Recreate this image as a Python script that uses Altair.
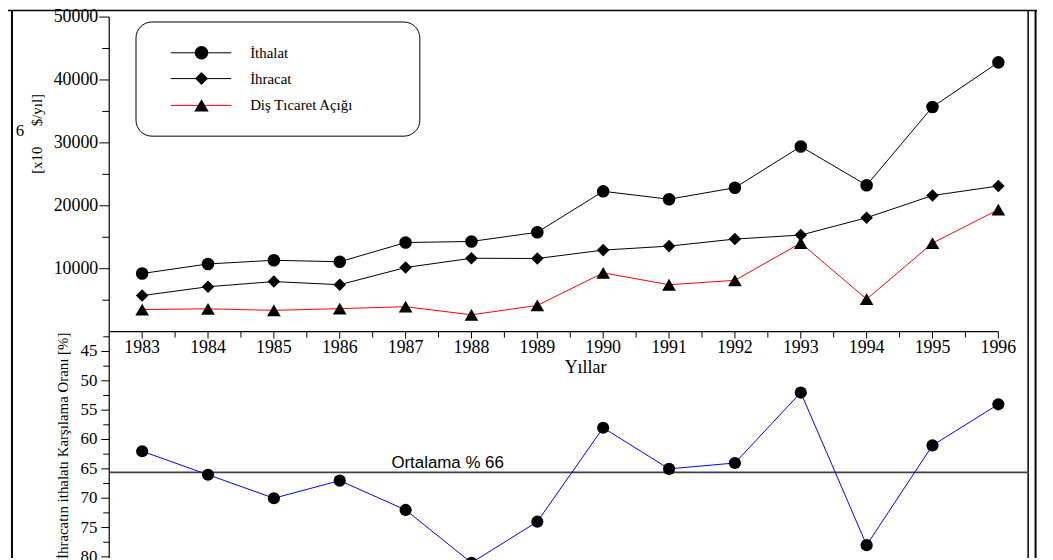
import altair as alt
import pandas as pd

# ---------------- data ----------------
years = list(range(1983, 1997))
ithalat = [9235, 10757, 11343, 11105, 14158, 14335, 15792, 22302, 21047, 22871, 29429, 23270, 35709, 42800]
ihracat = [5728, 7134, 7958, 7457, 10190, 11662, 11625, 12959, 13593, 14715, 15345, 18106, 21637, 23150]
dis_ticaret_acigi = [3507, 3623, 3385, 3648, 3968, 2673, 4167, 9343, 7454, 8156, 14084, 5164, 14072, 19400]
karsilama_orani = [62, 66, 70, 67, 72, 81, 74, 58, 65, 64, 52, 78, 61, 54]
ortalama_cizgisi = [65.6]
ortalama_etiketi = "Ortalama % 66"

series_names = ["İthalat", "İhracat", "Diş Tıcaret Açığı"]
year_labels = [str(y) for y in years]
half_years = [y + 0.5 for y in range(1983, 1996)]
y_top_major = [10000, 20000, 30000, 40000, 50000]
y_top_minor = [5000, 15000, 25000, 35000, 45000]
y_bot_major = [45, 50, 55, 60, 65, 70, 75, 80]
y_bot_minor = [42.5, 47.5, 52.5, 57.5, 62.5, 67.5, 72.5, 77.5]
x_domain = [1982.5, 1996]

SERIF = "Liberation Serif"
SANS = "Liberation Sans"

xs = alt.Scale(domain=x_domain, range=[0, 896], nice=False, zero=False)
yts = alt.Scale(domain=[0, 50000], range=[317, 0], nice=False, zero=False)
ybs = alt.Scale(domain=[45, 80], range=[337, 544], nice=False, zero=False)

one = pd.DataFrame({"d": [0]})

def X(field):
    return alt.X(field, scale=xs, axis=None)

# ---------------- top panel ----------------
df_top = pd.DataFrame({"yil": years, "ithalat": ithalat, "ihracat": ihracat, "acik": dis_ticaret_acigi})

def series(field, color, shape, size):
    base = alt.Chart(df_top)
    ln = base.mark_line(color=color, strokeWidth=1).encode(
        x=X("yil:Q"), y=alt.Y(f"{field}:Q", scale=yts, axis=None))
    pt = base.mark_point(shape=shape, filled=True, size=size, color="black", opacity=1).encode(
        x=X("yil:Q"), y=alt.Y(f"{field}:Q", scale=yts, axis=None))
    return [ln, pt]

top_layers = []
top_layers += series("acik", "#ff0000", "triangle-up", 190)
top_layers += series("ihracat", "black", "diamond", 160)
top_layers += series("ithalat", "black", "circle", 160)

# y axis (top)
df_ytm = pd.DataFrame({"v": y_top_major, "lab": [str(v) for v in y_top_major]})
df_ytn = pd.DataFrame({"v": y_top_minor})
top_layers.append(alt.Chart(df_ytm).mark_rule(color="black").encode(
    y=alt.Y("v:Q", scale=yts, axis=None), x=alt.value(-10), x2=alt.value(0)))
top_layers.append(alt.Chart(df_ytn).mark_rule(color="black").encode(
    y=alt.Y("v:Q", scale=yts, axis=None), x=alt.value(-7), x2=alt.value(0)))
top_layers.append(alt.Chart(df_ytm).mark_text(align="right", baseline="middle", font=SERIF, fontSize=18, color="black").encode(
    y=alt.Y("v:Q", scale=yts, axis=None), x=alt.value(-11), text="lab:N"))

# x axis (top panel)
df_xax = pd.DataFrame({"a": [x_domain[0]], "b": [x_domain[1]]})
top_layers.append(alt.Chart(df_xax).mark_rule(color="black", strokeWidth=1.2).encode(
    x=X("a:Q"), x2="b:Q", y=alt.value(317)))
df_xt = pd.DataFrame({"yil": years, "lab": year_labels})
df_xn = pd.DataFrame({"yil": half_years})
top_layers.append(alt.Chart(df_xt).mark_rule(color="black").encode(
    x=X("yil:Q"), y=alt.value(317), y2=alt.value(324)))
top_layers.append(alt.Chart(df_xn).mark_rule(color="black").encode(
    x=X("yil:Q"), y=alt.value(317), y2=alt.value(323)))
top_layers.append(alt.Chart(df_xt).mark_text(baseline="middle", font=SERIF, fontSize=18, color="black").encode(
    x=X("yil:Q"), y=alt.value(334), text="lab:N"))

# y axis line (both panels)
top_layers.append(alt.Chart(one).mark_rule(color="black", strokeWidth=1.2).encode(
    x=alt.value(0), y=alt.value(0), y2=alt.value(545)))

# titles
top_layers.append(alt.Chart(one).mark_text(text="Yıllar", font=SERIF, fontSize=18, baseline="middle", color="black").encode(
    x=alt.value(480), y=alt.value(354)))
top_layers.append(alt.Chart(one).mark_text(text="[x10", font=SERIF, fontSize=15, angle=270, align="left", baseline="middle", color="black").encode(
    x=alt.value(-73), y=alt.value(158)))
top_layers.append(alt.Chart(one).mark_text(text="$/yıl]", font=SERIF, fontSize=15, angle=270, align="left", baseline="middle", color="black").encode(
    x=alt.value(-73), y=alt.value(110)))
top_layers.append(alt.Chart(one).mark_text(text="6", font=SERIF, fontSize=17, baseline="middle", color="black").encode(
    x=alt.value(-90), y=alt.value(115)))
top_layers.append(alt.Chart(one).mark_text(text="İhracatın ithalatı Karşılama Oranı [%]", font=SERIF, fontSize=15, angle=270, align="right", baseline="middle", color="black").encode(
    x=alt.value(-47), y=alt.value(318)))

# legend
top_layers.append(alt.Chart(one).mark_rect(fillOpacity=0, stroke="black", strokeWidth=1, cornerRadius=16).encode(
    x=alt.value(27), x2=alt.value(313), y=alt.value(5), y2=alt.value(120)))
leg_rows = [(series_names[0], "black", "circle", 190, 36),
            (series_names[1], "black", "diamond", 170, 62),
            (series_names[2], "#ff0000", "triangle-up", 210, 89)]
for name, col, shp, sz, ry in leg_rows:
    top_layers.append(alt.Chart(one).mark_rule(color=col, strokeWidth=1).encode(
        x=alt.value(62), x2=alt.value(123), y=alt.value(ry)))
    top_layers.append(alt.Chart(one).mark_point(shape=shp, filled=True, size=sz, color="black", opacity=1).encode(
        x=alt.value(93), y=alt.value(ry)))
    top_layers.append(alt.Chart(one).mark_text(text=name, font=SERIF, fontSize=15, align="left", baseline="middle", color="black").encode(
        x=alt.value(142), y=alt.value(ry)))

# frame
top_layers.append(alt.Chart(one).mark_rule(color="black", strokeWidth=2).encode(
    x=alt.value(-98), y=alt.value(-7), y2=alt.value(545)))
top_layers.append(alt.Chart(one).mark_rule(color="black", strokeWidth=1.5).encode(
    x=alt.value(926), y=alt.value(-7), y2=alt.value(545)))
top_layers.append(alt.Chart(one).mark_rule(color="black", strokeWidth=2).encode(
    x=alt.value(933.5), y=alt.value(-7), y2=alt.value(545)))
top_layers.append(alt.Chart(one).mark_rule(color="black", strokeWidth=1.5).encode(
    x=alt.value(-102), x2=alt.value(935), y=alt.value(-6.5)))

top_group = alt.layer(*top_layers)

# ---------------- bottom panel ----------------
df_bot = pd.DataFrame({"yil": years, "oran": karsilama_orani})
df_avg = pd.DataFrame({"v": ortalama_cizgisi, "lab": [ortalama_etiketi]})
df_ybm = pd.DataFrame({"v": y_bot_major, "lab": [str(v) for v in y_bot_major]})
df_ybn = pd.DataFrame({"v": y_bot_minor})

bot_layers = [
    alt.Chart(df_avg).mark_rule(color="#404040", strokeWidth=2).encode(
        y=alt.Y("v:Q", scale=ybs, axis=None), x=alt.value(0), x2=alt.value(927)),
    alt.Chart(df_avg).mark_text(font=SANS, fontSize=17, baseline="alphabetic", dy=-4, color="black").encode(
        y=alt.Y("v:Q", scale=ybs, axis=None), x=alt.value(341), text="lab:N"),
    alt.Chart(df_bot).mark_line(color="#0000ff", strokeWidth=1).encode(
        x=X("yil:Q"), y=alt.Y("oran:Q", scale=ybs, axis=None)),
    alt.Chart(df_bot).mark_point(shape="circle", filled=True, size=150, color="black", opacity=1).encode(
        x=X("yil:Q"), y=alt.Y("oran:Q", scale=ybs, axis=None)),
    alt.Chart(df_ybm).mark_rule(color="black").encode(
        y=alt.Y("v:Q", scale=ybs, axis=None), x=alt.value(-8), x2=alt.value(0)),
    alt.Chart(df_ybn).mark_rule(color="black").encode(
        y=alt.Y("v:Q", scale=ybs, axis=None), x=alt.value(-6), x2=alt.value(0)),
    alt.Chart(df_ybm).mark_text(align="right", baseline="middle", font=SERIF, fontSize=17, color="black").encode(
        y=alt.Y("v:Q", scale=ybs, axis=None), x=alt.value(-12), text="lab:N"),
]
bot_group = alt.layer(*bot_layers)

chart = alt.layer(top_group, bot_group).resolve_scale(y="independent").properties(
    width=926, height=545,
    padding={"left": 102, "top": 7, "right": 17, "bottom": 0},
    autosize=alt.AutoSizeParams(type="none"),
    background="white",
).configure_view(stroke=None)

chart.save("out.html", embed_options={"renderer": "svg", "actions": False})
